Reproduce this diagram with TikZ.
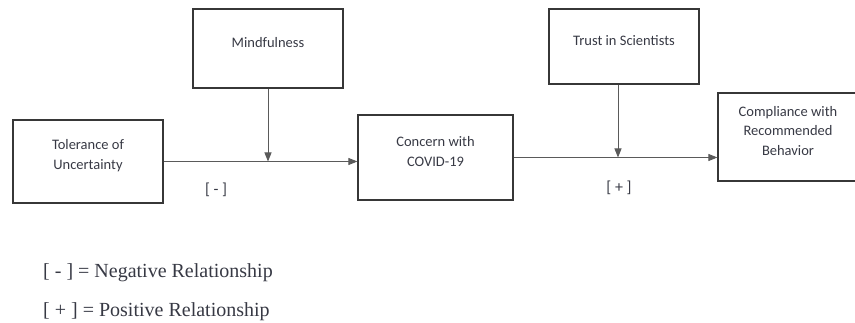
\documentclass[tikz,border=0pt]{standalone}
\usepackage{fontspec}
\setmainfont{Liberation Serif}
\newfontfamily\boxfont{Carlito}
\usetikzlibrary{arrows.meta,positioning}
\definecolor{boxline}{RGB}{55,55,55}
\definecolor{arrline}{RGB}{90,90,90}
\definecolor{boxink}{RGB}{55,57,68}
\tikzset{
  box/.style={rectangle, draw=boxline, line width=1.2pt, inner sep=0pt},
  boxtext/.style={align=center, text=boxink, font=\boxfont\fontsize{14.5}{19.5}\selectfont, yshift=6pt},
  sign/.style={text=boxink, font=\boxfont\fontsize{16}{18}\selectfont},
  legend/.style={anchor=west, text=boxink, font=\fontsize{20}{22}\selectfont, inner sep=0pt},
  arr/.style={-{Triangle[length=9pt,width=7pt]}, draw=arrline, fill=arrline, line width=0.9pt}
}
\begin{document}
\begin{tikzpicture}[x=1pt,y=1pt]
\useasboundingbox (0,0) rectangle (855,323);
\node[box, minimum width=150pt, minimum height=83pt] (tol) at (88,161.5) {};
\node[boxtext] (toltxt) at (tol.center) {Tolerance of\\Uncertainty};
\node[box, minimum width=150pt, minimum height=79pt] (mind) at (268,274.5) {};
\node[boxtext] (mindtxt) at (mind.center) {Mindfulness};
\node[box, minimum width=155pt, minimum height=85pt] (conc) at (435.5,165.5) {};
\node[boxtext] (conctxt) at (conc.center) {Concern with\\COVID-19};
\node[box, minimum width=150pt, minimum height=75pt] (trust) at (624,276.5) {};
\node[boxtext] (trusttxt) at (trust.center) {Trust in Scientists};
\node[box, minimum width=140pt, minimum height=88pt] (comp) at (788,186) {};
\node[boxtext] (comptxt) at (comp.center) {Compliance with\\Recommended\\Behavior};

\node[sign] (neg) at (216,133) {[ - ]};
\node[sign] (pos) at (619,135) {[ + ]};

\node[legend] (legneg) at (43,50) {[ - ] = Negative Relationship};
\node[legend] (legpos) at (43,11) {[ + ] = Positive Relationship};

\coordinate (mhit) at (mind.south |- tol.east);
\coordinate (thit) at (618,0 |- conc.east);
\draw[arr] (tol.east) -- (tol.east -| conc.west);
\draw[arr] (mind.south) -- (mhit);
\draw[arr] (conc.east) -- (conc.east -| comp.west);
\draw[arr] (trust.south -| thit) -- (thit);
\end{tikzpicture}
\end{document}
